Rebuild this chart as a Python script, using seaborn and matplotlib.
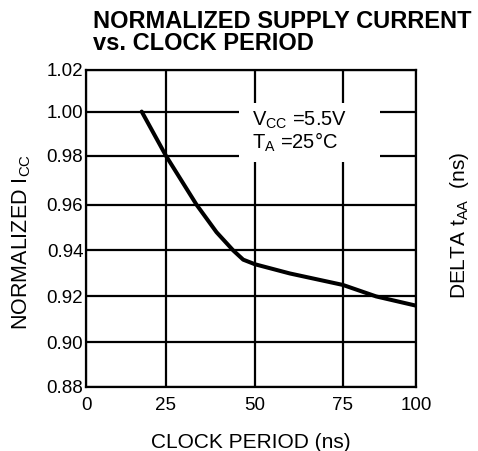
import numpy as np
import pandas as pd
import matplotlib
matplotlib.use("Agg")
import matplotlib.pyplot as plt
import seaborn as sns
from matplotlib.patches import Rectangle

# ---- data ----
clock_period = [17.4, 25.0, 33.6, 39.2, 43.9, 46.7, 50.0, 59.9, 75.0, 86.4, 100.0]
norm_icc = [1.000, 0.980, 0.960, 0.948, 0.940, 0.936, 0.934, 0.930, 0.925, 0.920, 0.916]
x_ticks = [0, 25, 50, 75, 100]
y_ticks = [0.88, 0.90, 0.92, 0.94, 0.96, 0.98, 1.00, 1.02]
y_ticklabels = ["0.88", "0.90", "0.92", "0.94", "0.96", "0.98", "1.00", "1.02"]
title_text = "NORMALIZED SUPPLY CURRENT\nvs. CLOCK PERIOD"
x_label = "CLOCK PERIOD (ns)"
y_label = r"NORMALIZED I$_{\mathrm{CC}}$"
right_label = r"DELTA t$_{\mathrm{AA}}$  (ns)"
cond1 = r"V$_{\mathrm{CC}}$ =5.5V"
cond2 = r"T$_{\mathrm{A}}$ =25°C"

# scanned-chart grid spacing (slightly uneven), used for function scales
x_grid_pos = [0, 80, 169, 257, 330]
y_grid_pos = [0, 44.6, 90.6, 136.6, 182.3, 231.3, 275.6, 317.3]

sns.set_style("white")
plt.rcParams["font.family"] = ["Liberation Sans", "DejaVu Sans"]
plt.rcParams["mathtext.fontset"] = "custom"
plt.rcParams["mathtext.rm"] = "Liberation Sans"
plt.rcParams["mathtext.it"] = "Liberation Sans"
plt.rcParams["text.color"] = "black"
plt.rcParams["axes.labelcolor"] = "black"
plt.rcParams["xtick.color"] = "black"
plt.rcParams["ytick.color"] = "black"

df = pd.DataFrame({"period": clock_period, "icc": norm_icc})

fig = plt.figure(figsize=(4.78, 4.51), dpi=100)
ax = fig.add_axes([0.180, 0.142, 0.690, 0.703])

xf = lambda v: np.interp(v, x_ticks, x_grid_pos)
xi = lambda v: np.interp(v, x_grid_pos, x_ticks)
yf = lambda v: np.interp(v, y_ticks, y_grid_pos)
yi = lambda v: np.interp(v, y_grid_pos, y_ticks)
ax.set_xscale("function", functions=(xf, xi))
ax.set_yscale("function", functions=(yf, yi))

sns.lineplot(data=df, x="period", y="icc", ax=ax, color="black", linewidth=2.9,
             zorder=3)

ax.set_xlim(0, 100)
ax.set_ylim(0.88, 1.02)
ax.set_xticks(x_ticks)
ax.set_xticklabels([str(t) for t in x_ticks])
ax.set_yticks(y_ticks)
ax.set_yticklabels(y_ticklabels)
ax.tick_params(length=0, labelsize=13.5, colors="black", labelcolor="black")
ax.tick_params(axis="y", pad=2)
ax.tick_params(axis="x", pad=7)
ax.grid(True, color="black", linewidth=1.6)
for s in ax.spines.values():
    s.set_color("black")
    s.set_linewidth(1.6)

ax.set_xlabel(x_label, fontsize=15, labelpad=14, color="black")
ax.set_ylabel(y_label, fontsize=15.5, color="black")
ax.yaxis.set_label_coords(-0.16, 0.457)

ax.add_patch(Rectangle((0.464, 0.71), 0.427, 0.186, transform=ax.transAxes,
                       facecolor="white", edgecolor="none", zorder=2.5))
ax.text(0.503, 0.842, cond1, transform=ax.transAxes, fontsize=14.5,
        va="center", ha="left", zorder=4, color="black")
ax.text(0.503, 0.770, cond2, transform=ax.transAxes, fontsize=14.5,
        va="center", ha="left", zorder=4, color="black")

fig.text(0.195, 0.978, title_text, fontsize=17, fontweight="bold",
         va="top", ha="left", linespacing=0.95, color="black")
fig.text(0.962, 0.50, right_label, fontsize=15, rotation=90,
         va="center", ha="center", color="black")

fig.savefig("out.png", dpi=100)
